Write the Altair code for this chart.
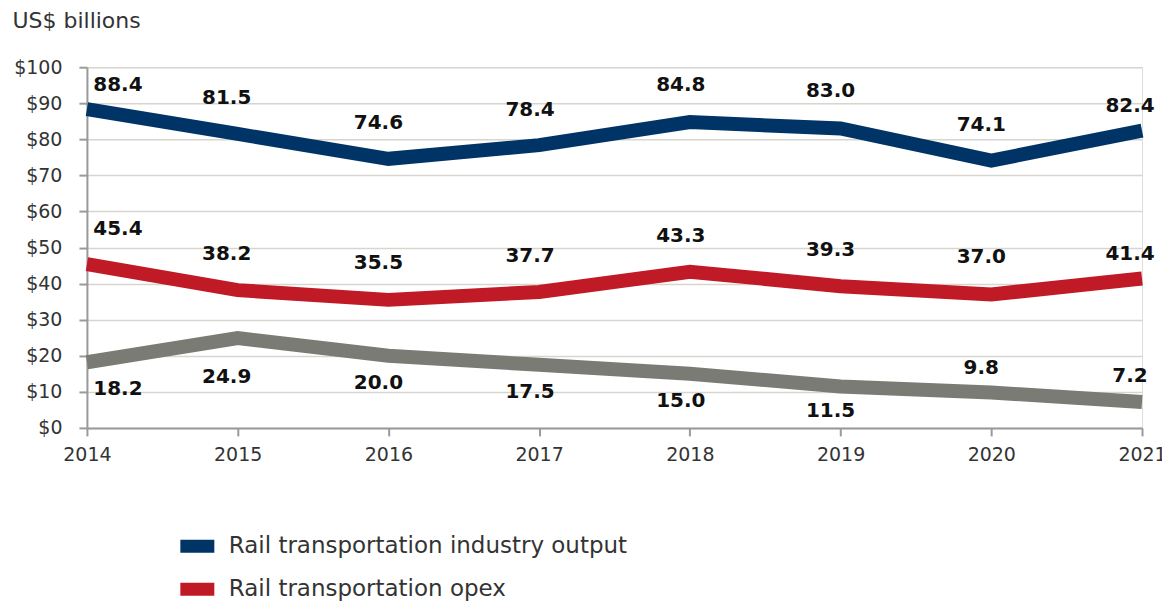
import altair as alt
import pandas as pd

# ---- data ----
years = [2014, 2015, 2016, 2017, 2018, 2019, 2020, 2021]
series_names = [
    "Rail transportation industry output",
    "Rail transportation opex",
    "Railroad rolling stock production",
]
industry_output = [88.4, 81.5, 74.6, 78.4, 84.8, 83.0, 74.1, 82.4]
opex = [45.4, 38.2, 35.5, 37.7, 43.3, 39.3, 37.0, 41.4]
rolling_stock = [18.2, 24.9, 20.0, 17.5, 15.0, 11.5, 9.8, 7.2]
y_ticks = [0, 10, 20, 30, 40, 50, 60, 70, 80, 90, 100]

# ---- layout (label placement relative to each point, in pixels) ----
label_dx = [31, -11, -10, -9, -9, -10, -10, -12]
label_dy = {
    series_names[0]: [-24, -36, -36, -35, -37, -38, -36, -25],
    series_names[1]: [-35, -36, -37, -36, -36, -36, -37, -25],
    series_names[2]: [27, 39, 27, 27, 27, 25, -25, -26],
}
colors = ["#003466", "#C01A26", "#7A7B74"]
FONT = "DejaVu Sans"

rows = []
for name, vals in zip(series_names, [industry_output, opex, rolling_stock]):
    for i, (yr, v) in enumerate(zip(years, vals)):
        rows.append({
            "year": yr, "value": v, "series": name,
            "label": f"{v:.1f}", "dx": label_dx[i], "dy": label_dy[name][i],
        })
df = pd.DataFrame(rows)

x_enc = alt.X(
    "year:Q",
    scale=alt.Scale(domain=[years[0], years[-1]], nice=False, zero=False),
    axis=alt.Axis(
        values=years, format="d", title=None, grid=False,
        tickSize=8, labelPadding=10, labelFontSize=19, labelFont=FONT,
        labelColor="#333333", domainColor="#9A9A9A", tickColor="#9A9A9A",
        domainWidth=2, tickWidth=2, labelFlush=False, labelOverlap=False,
    ),
)
y_enc = alt.Y(
    "value:Q",
    scale=alt.Scale(domain=[0, 100], nice=False),
    axis=alt.Axis(
        values=y_ticks, format="$,.0f", title="US$ billions",
        titleAngle=0, titleAlign="left", titleBaseline="middle",
        titleX=-75, titleY=-47, titleFontSize=22, titleFont=FONT,
        titleFontWeight="normal", titleColor="#333333",
        tickSize=8, labelPadding=17, labelFontSize=19, labelFont=FONT,
        labelColor="#333333", domainColor="#9A9A9A", tickColor="#9A9A9A",
        domainWidth=2, tickWidth=2, gridColor="#D8D5D0", gridWidth=1.5,
        labelOverlap=False, labelFlush=False,
    ),
)

color_enc = alt.Color(
    "series:N",
    scale=alt.Scale(domain=series_names, range=colors),
    sort=series_names,
    legend=alt.Legend(
        title=None, orient="none", legendX=94, legendY=463,
        symbolType="M-1.7,0H1.7", symbolSize=400,
        symbolStrokeWidth=13, labelFontSize=23, labelFont=FONT,
        labelColor="#333333", labelOffset=15, rowPadding=-52,
        labelLimit=600,
    ),
)

base = alt.Chart(df).encode(x=x_enc, y=y_enc)

lines = base.mark_line(
    strokeWidth=14, strokeCap="butt", strokeJoin="miter"
).encode(color=color_enc, detail="series:N")

layers = [lines]
for (dx, dy), _grp in df.groupby(["dx", "dy"]):
    layers.append(
        base.transform_filter(
            (alt.datum.dx == int(dx)) & (alt.datum.dy == int(dy))
        ).mark_text(
            font=FONT, fontSize=20, fontWeight="bold", color="#111111",
            align="center", baseline="middle", dx=int(dx), dy=int(dy),
        ).encode(text="label:N")
    )

chart = alt.layer(*layers).properties(
    width=1056, height=361,
    autosize=alt.AutoSizeParams(type="none"),
    padding={"left": 79, "top": 59, "right": 20, "bottom": 200},
).configure_view(stroke=None).configure(background="white")

chart.save("out.html", embed_options={"renderer": "svg", "actions": False})
